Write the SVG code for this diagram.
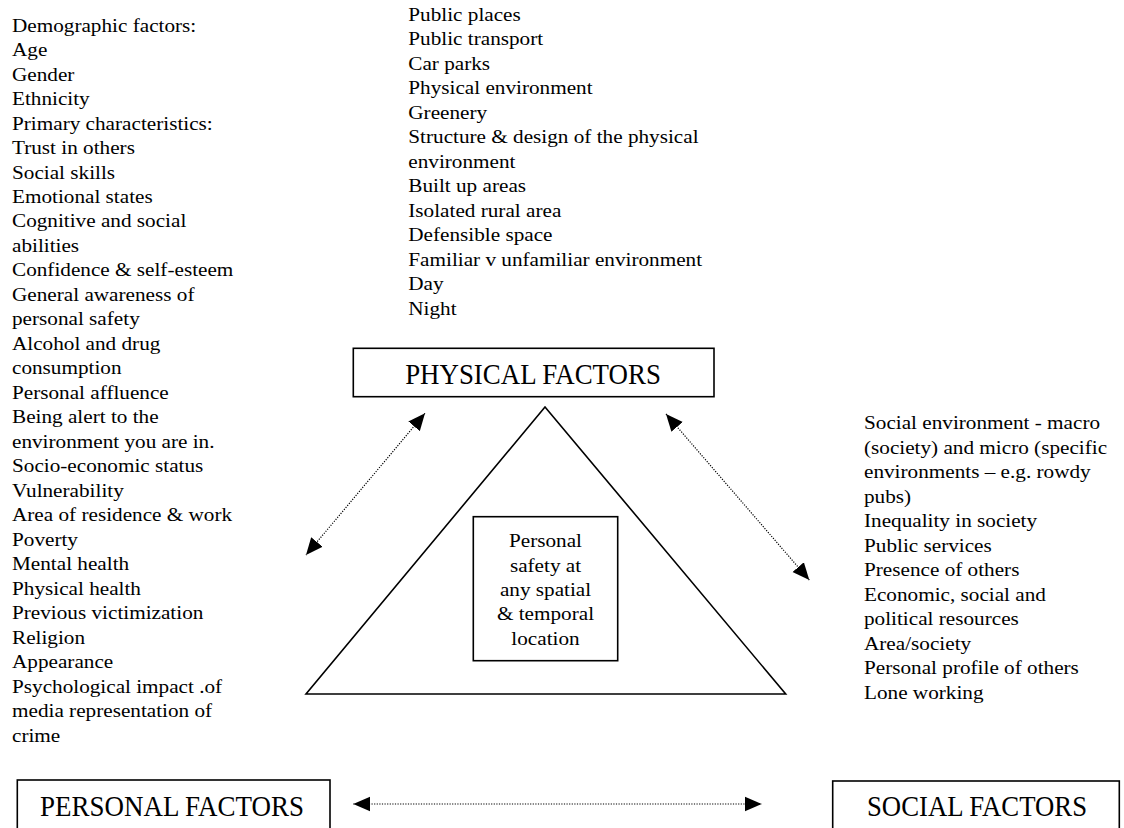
<svg xmlns="http://www.w3.org/2000/svg" width="1124" height="828" viewBox="0 0 1124 828">
<style>
  .t { font-family: "Liberation Serif", "Times New Roman", serif; font-size: 19.5px; fill: #000; }
  .lbl { font-family: "Liberation Serif", "Times New Roman", serif; font-size: 28.5px; fill: #000; text-anchor: middle; }
  .box { fill: #fff; stroke: #000; stroke-width: 1.6; }
  .dot { fill: none; stroke: #000; stroke-width: 1.2; stroke-dasharray: 1.2 1.4; }
</style>
<defs>
  <marker id="ah" markerUnits="userSpaceOnUse" markerWidth="18" markerHeight="16" viewBox="0 0 18 16" refX="17" refY="8" orient="auto-start-reverse">
    <path d="M0,0.5 L17,8 L0,15.5 z" fill="#000"/>
  </marker>
</defs>
<rect width="1124" height="828" fill="#fff"/>

<g id="personal-list" transform="translate(12,0) scale(1.088,1)">
  <text class="t" x="0" y="31.7">Demographic factors:</text>
  <text class="t" x="0" y="56.2">Age</text>
  <text class="t" x="0" y="80.7">Gender</text>
  <text class="t" x="0" y="105.1">Ethnicity</text>
  <text class="t" x="0" y="129.6">Primary characteristics:</text>
  <text class="t" x="0" y="154.1">Trust in others</text>
  <text class="t" x="0" y="178.6">Social skills</text>
  <text class="t" x="0" y="203.1">Emotional states</text>
  <text class="t" x="0" y="227.5">Cognitive and social</text>
  <text class="t" x="0" y="252.0">abilities</text>
  <text class="t" x="0" y="276.5">Confidence &amp; self-esteem</text>
  <text class="t" x="0" y="301.0">General awareness of</text>
  <text class="t" x="0" y="325.5">personal safety</text>
  <text class="t" x="0" y="349.9">Alcohol and drug</text>
  <text class="t" x="0" y="374.4">consumption</text>
  <text class="t" x="0" y="398.9">Personal affluence</text>
  <text class="t" x="0" y="423.4">Being alert to the</text>
  <text class="t" x="0" y="447.9">environment you are in.</text>
  <text class="t" x="0" y="472.3">Socio-economic status</text>
  <text class="t" x="0" y="496.8">Vulnerability</text>
  <text class="t" x="0" y="521.3">Area of residence &amp; work</text>
  <text class="t" x="0" y="545.8">Poverty</text>
  <text class="t" x="0" y="570.3">Mental health</text>
  <text class="t" x="0" y="594.7">Physical health</text>
  <text class="t" x="0" y="619.2">Previous victimization</text>
  <text class="t" x="0" y="643.7">Religion</text>
  <text class="t" x="0" y="668.2">Appearance</text>
  <text class="t" x="0" y="692.7">Psychological impact .of</text>
  <text class="t" x="0" y="717.1">media representation of</text>
  <text class="t" x="0" y="741.6">crime</text>
</g>

<g id="physical-list" transform="translate(408.3,0) scale(1.088,1)">
  <text class="t" x="0" y="21">Public places</text>
  <text class="t" x="0" y="45.5">Public transport</text>
  <text class="t" x="0" y="70">Car parks</text>
  <text class="t" x="0" y="94.5">Physical environment</text>
  <text class="t" x="0" y="119">Greenery</text>
  <text class="t" x="0" y="143.5">Structure &amp; design of the physical</text>
  <text class="t" x="0" y="168">environment</text>
  <text class="t" x="0" y="192.5">Built up areas</text>
  <text class="t" x="0" y="217">Isolated rural area</text>
  <text class="t" x="0" y="241.5">Defensible space</text>
  <text class="t" x="0" y="266">Familiar v unfamiliar environment</text>
  <text class="t" x="0" y="290.5">Day</text>
  <text class="t" x="0" y="315">Night</text>
</g>

<g id="social-list" transform="translate(864,0) scale(1.088,1)">
  <text class="t" x="0" y="429.3">Social environment - macro</text>
  <text class="t" x="0" y="453.8">(society) and micro (specific</text>
  <text class="t" x="0" y="478.3">environments – e.g. rowdy</text>
  <text class="t" x="0" y="502.8">pubs)</text>
  <text class="t" x="0" y="527.3">Inequality in society</text>
  <text class="t" x="0" y="551.8">Public services</text>
  <text class="t" x="0" y="576.3">Presence of others</text>
  <text class="t" x="0" y="600.8">Economic, social and</text>
  <text class="t" x="0" y="625.3">political resources</text>
  <text class="t" x="0" y="649.8">Area/society</text>
  <text class="t" x="0" y="674.3">Personal profile of others</text>
  <text class="t" x="0" y="698.8">Lone working</text>
</g>

<g id="triangle">
  <polygon points="545,407 306,694 785.7,694" fill="none" stroke="#000" stroke-width="1.6" stroke-linejoin="miter"/>
</g>

<g id="centre">
  <rect class="box" x="473.3" y="516.7" width="144.4" height="144"/>
  <g transform="translate(545.5,0) scale(1.088,1)">
    <text class="t" x="0" y="547.3" text-anchor="middle">Personal</text>
    <text class="t" x="0" y="571.7" text-anchor="middle">safety at</text>
    <text class="t" x="0" y="596.1" text-anchor="middle">any spatial</text>
    <text class="t" x="0" y="620.5" text-anchor="middle">&amp; temporal</text>
    <text class="t" x="0" y="644.9" text-anchor="middle">location</text>
  </g>
</g>

<g id="physical-factors">
  <rect class="box" x="353.3" y="348.3" width="360.7" height="48.4"/>
  <text class="lbl" x="533" y="384" textLength="255.7" lengthAdjust="spacingAndGlyphs">PHYSICAL FACTORS</text>
</g>

<g id="personal-factors">
  <rect class="box" x="17.3" y="780" width="312.7" height="70"/>
  <text class="lbl" x="172" y="815.7" textLength="264" lengthAdjust="spacingAndGlyphs">PERSONAL FACTORS</text>
</g>

<g id="social-factors">
  <rect class="box" x="832.7" y="781" width="286.6" height="70"/>
  <text class="lbl" x="977" y="816" textLength="220" lengthAdjust="spacingAndGlyphs">SOCIAL FACTORS</text>
</g>

<g id="connectors">
  <line class="dot" x1="425" y1="413.3" x2="306" y2="555" marker-start="url(#ah)" marker-end="url(#ah)"/>
  <line class="dot" x1="666" y1="414" x2="809.3" y2="580" marker-start="url(#ah)" marker-end="url(#ah)"/>
  <line class="dot" x1="353.3" y1="804" x2="761.7" y2="804" marker-start="url(#ah)" marker-end="url(#ah)"/>
</g>
</svg>
